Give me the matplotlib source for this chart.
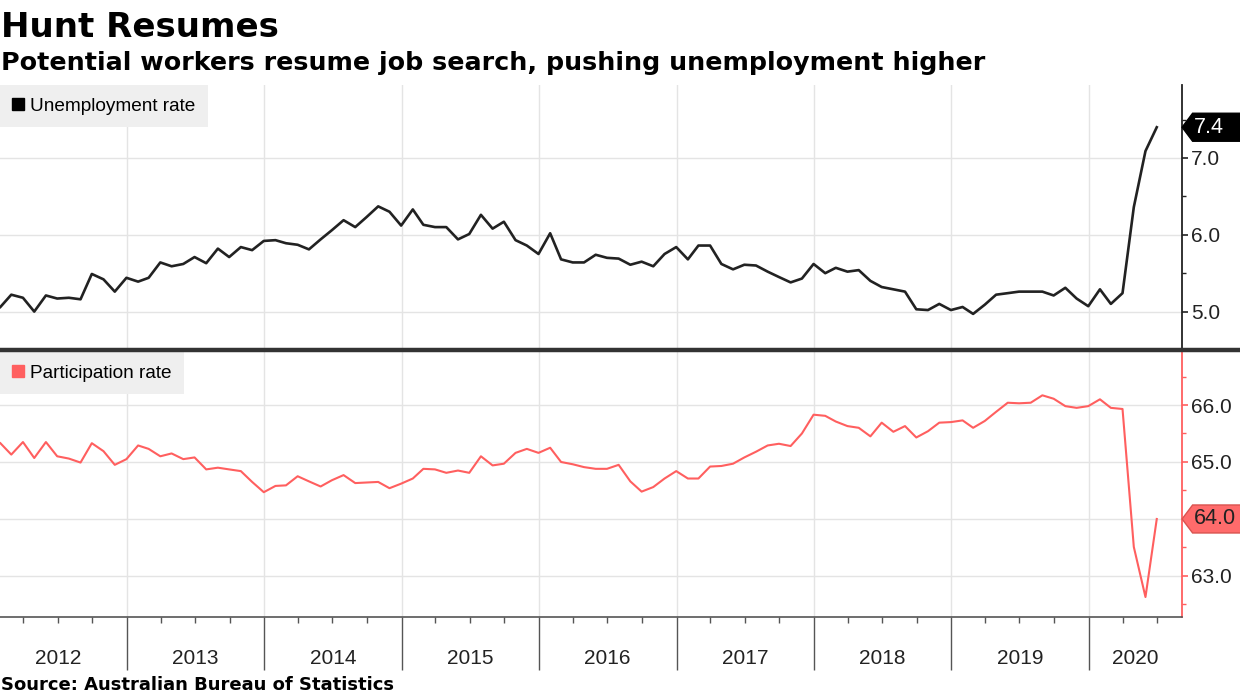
import matplotlib
matplotlib.use("Agg")
import matplotlib.pyplot as plt
import matplotlib.dates as mdates
import matplotlib.transforms as mtransforms
from matplotlib.lines import Line2D
from matplotlib.patches import Polygon
import pandas as pd

# monthly data, Jan 2012 - Jun 2020
months = pd.date_range("2012-01-31", periods=102, freq="ME")

unemployment = [
    5.06, 5.22, 5.18, 5.00, 5.21, 5.17, 5.18, 5.16, 5.49, 5.42, 5.26, 5.44,
    5.39, 5.44, 5.64, 5.59, 5.62, 5.71, 5.63, 5.82, 5.71, 5.84, 5.80, 5.92,
    5.93, 5.89, 5.87, 5.81, 5.94, 6.06, 6.19, 6.10, 6.23, 6.37, 6.30, 6.12,
    6.33, 6.13, 6.10, 6.10, 5.94, 6.01, 6.26, 6.08, 6.17, 5.93, 5.86, 5.75,
    6.02, 5.68, 5.64, 5.64, 5.74, 5.70, 5.69, 5.61, 5.65, 5.59, 5.75, 5.84,
    5.68, 5.86, 5.86, 5.62, 5.55, 5.61, 5.60, 5.52, 5.45, 5.38, 5.43, 5.62,
    5.50, 5.57, 5.52, 5.54, 5.40, 5.32, 5.29, 5.26, 5.03, 5.02, 5.10, 5.02,
    5.06, 4.97, 5.09, 5.22, 5.24, 5.26, 5.26, 5.26, 5.21, 5.31, 5.17, 5.07,
    5.29, 5.10, 5.24, 6.36, 7.09, 7.40,
]

participation = [
    65.33, 65.13, 65.35, 65.07, 65.35, 65.10, 65.06, 64.99, 65.33, 65.19, 64.95, 65.05,
    65.29, 65.23, 65.10, 65.15, 65.05, 65.08, 64.87, 64.90, 64.87, 64.84, 64.65, 64.47,
    64.58, 64.59, 64.75, 64.66, 64.57, 64.68, 64.77, 64.63, 64.64, 64.65, 64.54, 64.62,
    64.71, 64.88, 64.87, 64.81, 64.85, 64.81, 65.10, 64.94, 64.97, 65.16, 65.23, 65.16,
    65.25, 65.00, 64.96, 64.91, 64.88, 64.88, 64.95, 64.66, 64.48, 64.56, 64.71, 64.84,
    64.71, 64.71, 64.92, 64.93, 64.97, 65.08, 65.18, 65.29, 65.32, 65.28, 65.50, 65.83,
    65.81, 65.71, 65.63, 65.60, 65.45, 65.69, 65.53, 65.63, 65.43, 65.54, 65.69, 65.70,
    65.73, 65.60, 65.72, 65.88, 66.04, 66.03, 66.04, 66.17, 66.11, 65.98, 65.95, 65.98,
    66.10, 65.95, 65.93, 63.51, 62.63, 64.00,
]

years = list(range(2012, 2021))
top_ticks = [5.0, 6.0, 7.0]
bottom_ticks = [63.0, 64.0, 65.0, 66.0]

BLACK = "#222222"
RED = "#ff5f5f"
GRID = "#e4e4e4"
TICKFONT = ["Liberation Sans", "DejaVu Sans"]

fig = plt.figure(figsize=(12.4, 6.96), dpi=100)
ax1 = fig.add_axes([0, 1 - 350 / 696, 1181.6 / 1240, 265 / 696])
ax2 = fig.add_axes([0, 1 - 617 / 696, 1181.6 / 1240, 265 / 696])

xmin = pd.Timestamp("2012-01-30")
xmax = pd.Timestamp("2020-09-04")

ax1.plot(months, unemployment, color=BLACK, lw=1.9, zorder=3)
ax2.plot(months, participation, color=RED, lw=1.5, zorder=3)

ax1.set_ylim(4.67, 7.95)
ax2.set_ylim(62.28, 66.93)

for ax, ticks, col, last in [(ax1, top_ticks, BLACK, unemployment[-1]),
                             (ax2, bottom_ticks, RED, participation[-1])]:
    ax.set_xlim(xmin, xmax)
    ax.xaxis.set_major_locator(mdates.YearLocator())
    ax.xaxis.set_minor_locator(mdates.MonthLocator(bymonth=[4, 7, 10]))
    ax.set_yticks(ticks)
    ax.set_yticks([t + 0.5 for t in ticks] + [ticks[0] - 0.5], minor=True)
    ax.yaxis.tick_right()
    # the last-value tag sits on top of a tick label with the same value
    labels = ["" if abs(t - last) < 0.05 else f"{t:.1f}" for t in ticks]
    ax.set_yticklabels(labels, family=TICKFONT, fontsize=15, color=BLACK)
    ax.tick_params(axis="y", which="major", length=4, width=1.2, color=col, pad=3)
    ax.tick_params(axis="y", which="minor", length=3, width=1, color=col)
    ax.grid(True, which="major", color=GRID, lw=1, zorder=0)
    for s in ["left", "top"]:
        ax.spines[s].set_visible(False)
    ax.spines["right"].set_color(col)
    ax.spines["right"].set_linewidth(1.3)

ax1.tick_params(axis="x", which="both", length=0, labelbottom=False)
ax1.spines["bottom"].set_visible(False)

ax2.tick_params(axis="x", which="major", length=38, width=1, color="#555555", labelbottom=False)
ax2.tick_params(axis="x", which="minor", length=4, width=1, color="#555555")
ax2.spines["bottom"].set_color("#555555")
ax2.spines["bottom"].set_linewidth(1.2)

# year labels centred in each year
xtrans = ax2.get_xaxis_transform()
for y in years:
    start = pd.Timestamp(f"{y}-01-01")
    end = min(pd.Timestamp(f"{y + 1}-01-01"), xmax)
    mid = start + (end - start) / 2
    ax2.text(mid, -0.155, str(y), transform=xtrans, ha="center", va="center",
             family=TICKFONT, fontsize=15, color=BLACK)

# series legends
for ax, label, col in [(ax1, "Unemployment rate", "black"), (ax2, "Participation rate", RED)]:
    h = Line2D([], [], marker="s", ls="none", color=col, markersize=9)
    leg = ax.legend([h], [label], loc="upper left", bbox_to_anchor=(0, 1), borderaxespad=0,
                    frameon=True, fancybox=False, facecolor="#efefef", edgecolor="none",
                    framealpha=1, handlelength=0.6, handletextpad=0.35, borderpad=0.65,
                    prop={"family": TICKFONT, "size": 13.7})
    leg.set_zorder(5)


def tag(ax, value, face, edge, textcol, half):
    trans = fig.dpi_scale_trans + mtransforms.ScaledTranslation(1, value, ax.get_yaxis_transform())
    verts = [(0.005, 0), (0.11, half), (0.6, half), (0.6, -half), (0.11, -half)]
    ax.add_patch(Polygon(verts, closed=True, transform=trans, facecolor=face,
                         edgecolor=edge, lw=1, clip_on=False, zorder=6))
    ax.annotate(f"{value:.1f}", xy=(1, value), xycoords=ax.get_yaxis_transform(),
                xytext=(8.5, 0), textcoords="offset points", ha="left", va="center",
                family=TICKFONT, fontsize=15.5, color=textcol, zorder=7, annotation_clip=False)


tag(ax1, unemployment[-1], "black", "black", "white", 0.14)
tag(ax2, participation[-1], "#ff6b6b", "#d9534f", BLACK, 0.14)

# thick separator between the panels
fig.add_artist(Line2D([0, 1], [1 - 350 / 696] * 2, transform=fig.transFigure,
                      color="#333333", lw=3.2, zorder=10))

fig.text(0.001, 1 - 37 / 696, "Hunt Resumes", family="DejaVu Sans", weight="bold",
         fontsize=24.5, va="baseline", color="black")
fig.text(0.001, 1 - 70 / 696, "Potential workers resume job search, pushing unemployment higher",
         family="DejaVu Sans", weight="bold", fontsize=18.3, va="baseline", color="black")
fig.text(0.001, 1 - 690 / 696, "Source: Australian Bureau of Statistics", family="DejaVu Sans",
         weight="bold", fontsize=13, va="baseline", color="black")

fig.savefig("out.png", dpi=100, facecolor="white")
